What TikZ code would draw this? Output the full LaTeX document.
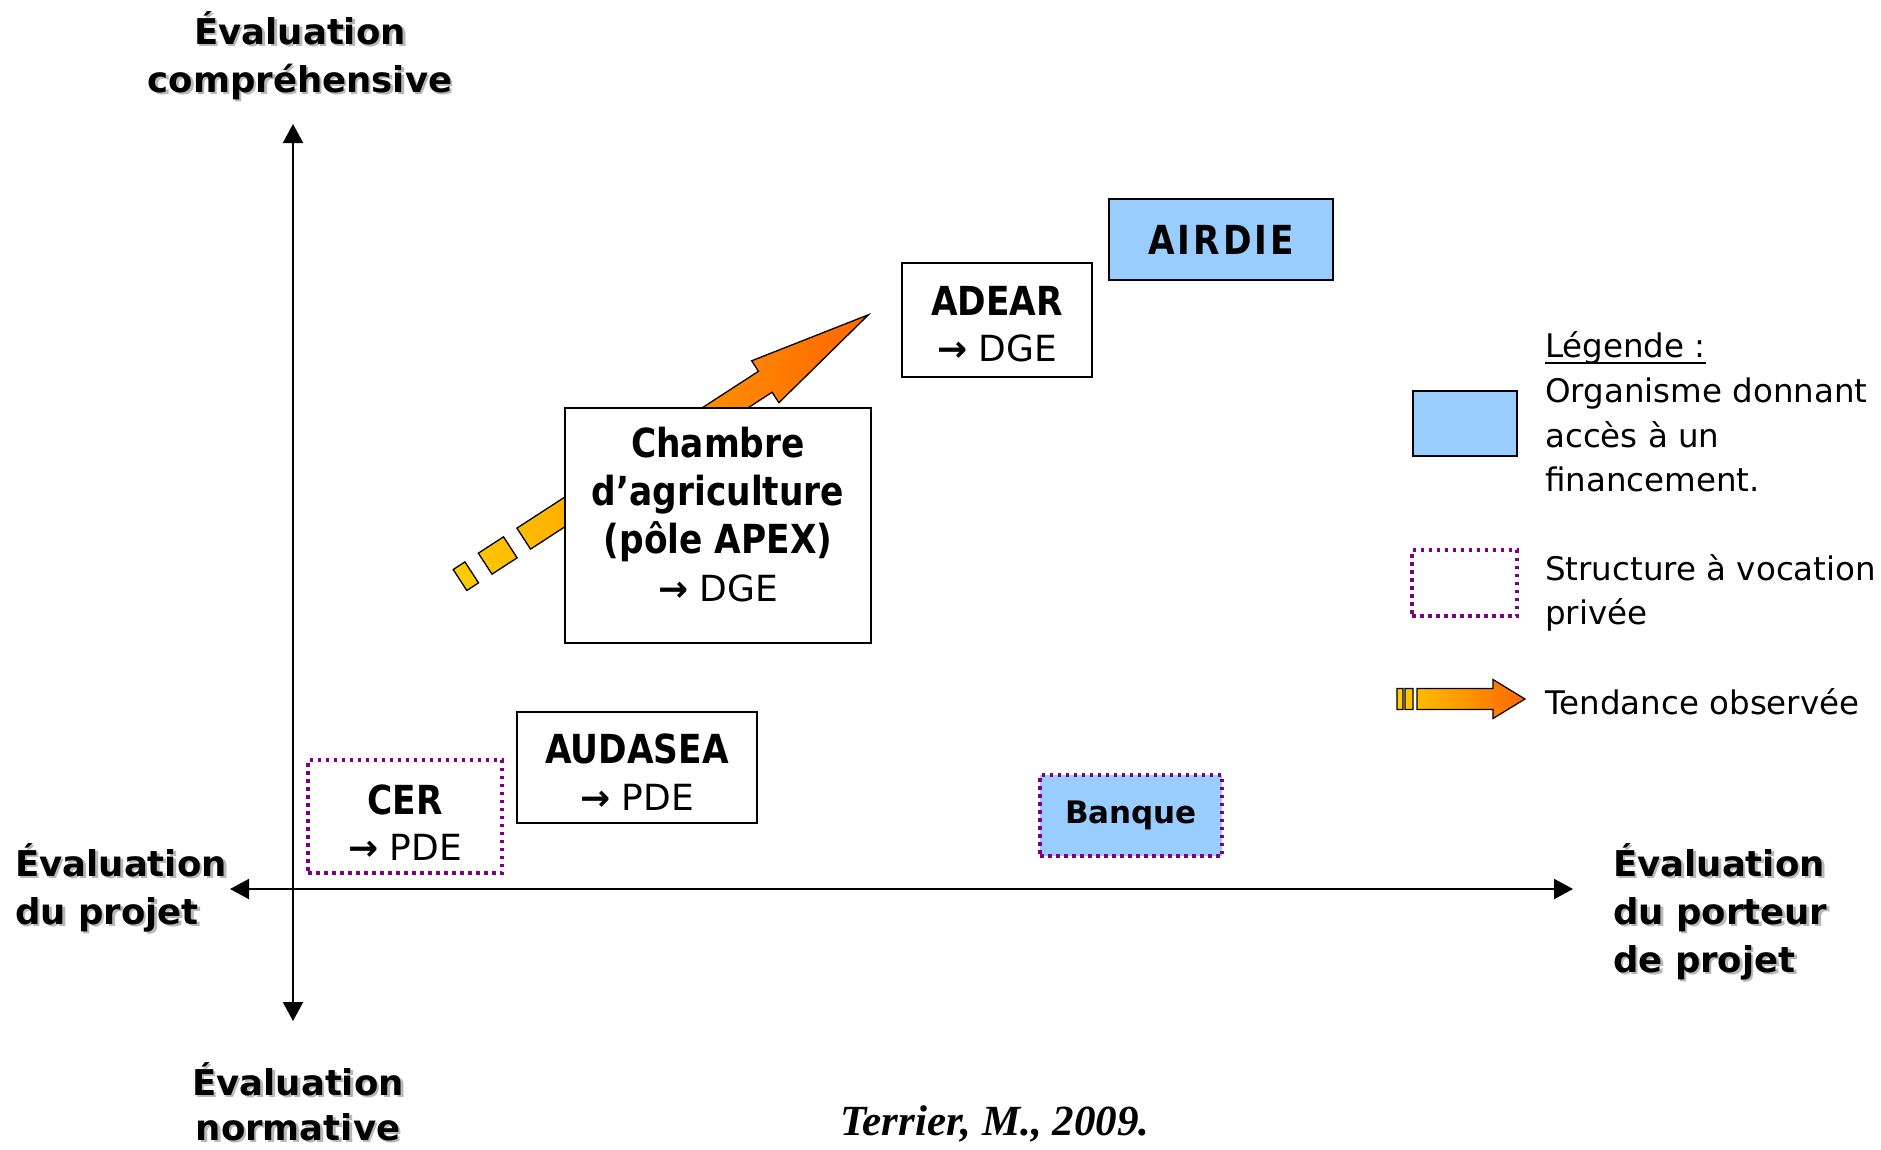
\documentclass[tikz,border=0pt]{standalone}
\usepackage{fontspec}
\setmainfont{DejaVu Sans}
\newfontfamily\tahoma{DejaVu Sans}[FakeStretch=0.86]
\newfontfamily\timesfont{Liberation Serif}
\usetikzlibrary{arrows.meta}
\definecolor{blu}{HTML}{99CCFF}
\definecolor{prp}{HTML}{800080}
\definecolor{ylw}{HTML}{FFCC00}
\definecolor{org}{HTML}{FF6600}
\newcommand\shd[1]{\leavevmode\rlap{\kern2.5pt\raisebox{-2.5pt}{\color{black!28}#1}}#1}
\newcommand\bx[1]{{\tahoma\bfseries #1}}
\newcommand\rg[1]{{\rmfamily\mdseries #1}}
\newcommand\arr{{\bfseries →}}
\newcommand\ulx[1]{\setbox0\hbox{#1}\rlap{\rule[-7pt]{\wd0}{2pt}}\box0}
\tikzset{
  axisline/.style={line width=2pt, {Triangle[length=19pt,width=20pt]}-{Triangle[length=19pt,width=20pt]}},
  axlabel/.style={inner sep=0pt, font=\bfseries\fontsize{35.5}{40}\selectfont},
  orgbox/.style={draw, line width=1.6pt, fill=white, inner sep=0pt, align=center},
  privbox/.style={draw=prp, line width=3.5pt, dash pattern=on 3.5pt off 4.5pt, inner sep=0pt, align=center},
  legtext/.style={inner sep=0pt, anchor=base west, font=\fontsize{32.5}{44}\selectfont},
  trend/.style={draw=black, line width=1.3pt, left color=ylw, right color=org}
}
\begin{document}
\begin{tikzpicture}[x=1pt,y=-1pt]
\useasboundingbox (0,0) rectangle (1881,1149);
\fill[white] (0,0) rectangle (1881,1149);

% axes
\coordinate (ytop) at (293,124);
\coordinate (ybot) at (293,1021);
\coordinate (xl) at (230,889);
\coordinate (xr) at (1573,889);
\draw[axisline] (ybot) -- (ytop);
\draw[axisline] (xl) -- (xr);

% axis labels
\node[axlabel, anchor=base] (tl1) at (300,44) {\shd{Évaluation}};
\node[axlabel, anchor=base] (tl2) at (300,92) {\shd{compréhensive}};
\node[axlabel, anchor=base west] (ll1) at (15,876) {\shd{Évaluation}};
\node[axlabel, anchor=base west] (ll2) at (15,924) {\shd{du projet}};
\node[axlabel, anchor=base west] (rl1) at (1613,876) {\shd{Évaluation}};
\node[axlabel, anchor=base west] (rl2) at (1613,924) {\shd{du porteur}};
\node[axlabel, anchor=base west] (rl3) at (1613,972) {\shd{de projet}};
\node[axlabel, anchor=base] (bl1) at (298,1095) {\shd{Évaluation}};
\node[axlabel, anchor=base] (bl2) at (298,1140) {\shd{normative}};

% trend arrow (behind the Chambre box)
\begin{scope}[shift={(460,580)}, rotate=33]
\path[trend] (0,-12.5) rectangle (14,12.5)
  (30,-12.5) rectangle (60,12.5)
  (76,-12.5) -- (364,-12.5) -- (364,-25) -- (487,0) -- (364,25) -- (364,12.5) -- (76,12.5) -- cycle;
\end{scope}

% boxes
\node[orgbox, fill=blu, minimum width=224pt, minimum height=81pt,
  font=\fontsize{40}{44}\selectfont] (airdie) at (1221,239.5)
  {\bx{A\kern3pt I\kern3pt R\kern3pt D\kern3pt I\kern3pt E}};
\node[orgbox, minimum width=190pt, minimum height=114pt,
  font=\fontsize{40}{46.5}\selectfont] (adear) at (997,320)
  {\rule{0pt}{37pt}\bx{ADEAR}\\\rg{\fontsize{36}{46.5}\selectfont \arr\ DGE}};
\node[orgbox, minimum width=306pt, minimum height=235pt,
  font=\fontsize{40}{48}\selectfont] (chambre) at (718,525.5)
  {\bx{Chambre}\\\bx{d’agriculture}\\\bx{(pôle APEX)}\\\rg{\fontsize{36}{48}\selectfont \arr\ DGE\rule[-23pt]{0pt}{0pt}}};
\node[orgbox, minimum width=240pt, minimum height=111pt,
  font=\fontsize{40}{47}\selectfont] (audasea) at (637,767.5)
  {\rule{0pt}{39pt}\bx{AUDASEA}\\\rg{\fontsize{36}{47}\selectfont \arr\ PDE}};
\node[privbox, minimum width=194pt, minimum height=113pt,
  font=\fontsize{40}{46}\selectfont] (cer) at (405,816.5)
  {\rule{0pt}{41pt}\bx{CER}\\\rg{\fontsize{36}{46}\selectfont \arr\ PDE}};
\node[privbox, fill=blu, minimum width=182pt, minimum height=81pt,
  font=\bfseries\fontsize{31}{40}\selectfont] (banque) at (1131,815.5) {Banque};

% legend
\node[draw, line width=1.6pt, fill=blu, minimum width=104pt, minimum height=65pt, inner sep=0pt] (lgblue) at (1465,423.5) {};
\node[privbox, minimum width=105pt, minimum height=66pt] (lgpriv) at (1464.5,583) {};
\node[legtext] (lg0) at (1545,357) {\ulx{Légende :}};
\node[legtext] (lg1) at (1545,402) {Organisme donnant};
\node[legtext] (lg2) at (1545,447) {accès à un};
\node[legtext] (lg3) at (1545,491) {financement.};
\node[legtext] (lg4) at (1545,580) {Structure à vocation};
\node[legtext] (lg5) at (1545,624) {privée};
\node[legtext] (lg6) at (1545,714) {Tendance observée};
\path[trend, line width=1.2pt] (1397,688.5) rectangle (1403,709.5)
  (1405,688.5) rectangle (1413,709.5)
  (1417,688.5) -- (1493,688.5) -- (1493,679.5) -- (1525,699) -- (1493,718.5) -- (1493,709.5) -- (1417,709.5) -- cycle;

% source
\node[inner sep=0pt, anchor=base, font=\timesfont\bfseries\itshape\fontsize{43}{50}\selectfont] (src) at (995,1135) {Terrier, M., 2009.};
\end{tikzpicture}
\end{document}
